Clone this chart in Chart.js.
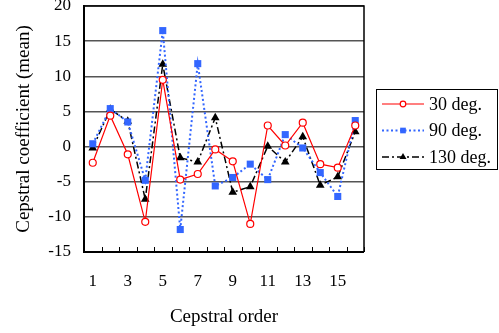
<!DOCTYPE html>
<html>
<head>
<meta charset="utf-8">
<script src="https://cdn.jsdelivr.net/npm/chart.js@4/dist/chart.umd.min.js"></script>
<style>
  html, body { margin: 0; padding: 0; background: #fff; }
  #wrap { width: 499px; height: 333px; }
</style>
</head>
<body>
<div id="wrap"><canvas id="chart" width="499" height="333"></canvas></div>
<script>
// Cepstral coefficient means per order
const orders  = ['1','2','3','4','5','6','7','8','9','10','11','12','13','14','15','16'];
const deg30   = [-2.3, 4.4, -1.1, -10.7, 9.5, -4.7, -3.9, -0.4, -2.1, -11.0, 3.0, 0.15, 3.4, -2.5, -3.0, 3.0];
const deg90   = [0.4, 5.4, 3.5, -4.8, 16.5, -11.8, 11.8, -5.6, -4.4, -2.5, -4.7, 1.7, -0.2, -3.7, -7.1, 3.7];
const deg130  = [-0.2, 5.3, 3.6, -7.5, 11.7, -1.6, -2.2, 4.1, -6.5, -5.7, 0.05, -2.2, 1.4, -5.5, -4.3, 2.1];
const seriesNames = ['30 deg.', '90 deg.', '130 deg.'];
const yTicks = { min: -15, max: 20, step: 5 };

const SERIF = "'Liberation Serif', 'DejaVu Serif', serif";
const BLUE  = '#3366FF';

// inner tick marks, frame and boxed legend
const framePlugin = {
  id: 'frame',
  afterDraw(chart) {
    const { ctx, chartArea: a } = chart;
    const xs = chart.scales.x;
    ctx.save();
    ctx.strokeStyle = '#000';
    ctx.lineWidth = 1.5;
    ctx.beginPath();
    ctx.moveTo(a.left, a.top);
    ctx.lineTo(a.right, a.top);
    ctx.lineTo(a.right, a.bottom);
    ctx.stroke();
    ctx.lineWidth = 2;
    ctx.beginPath();
    ctx.moveTo(a.left, a.top - 1);
    ctx.lineTo(a.left, a.bottom);
    ctx.lineTo(a.right, a.bottom);
    ctx.stroke();
    ctx.lineWidth = 1;
    ctx.beginPath();
    for (let i = 0; i <= orders.length; i++) {
      const x = Math.round(xs.getPixelForValue(i - 0.5)) + 0.5;
      ctx.moveTo(x, a.bottom);
      ctx.lineTo(x, a.bottom - 5);
    }
    ctx.stroke();

    // legend
    const box = { x: 376.5, y: 89.5, w: 121, h: 80 };
    ctx.lineWidth = 1;
    ctx.strokeRect(box.x, box.y, box.w, box.h);
    ctx.font = '18px ' + SERIF;
    ctx.textBaseline = 'middle';
    ctx.fillStyle = '#000';
    chart.data.datasets.forEach((ds, i) => {
      const y = 104 + i * 26.5;
      ctx.save();
      ctx.strokeStyle = ds.borderColor;
      ctx.lineWidth = ds.borderWidth;
      ctx.setLineDash(ds.borderDash || []);
      ctx.beginPath();
      ctx.moveTo(382, y);
      ctx.lineTo(424, y);
      ctx.stroke();
      ctx.setLineDash([]);
      ctx.fillStyle = ds.pointBackgroundColor;
      ctx.strokeStyle = ds.pointBorderColor;
      ctx.lineWidth = ds.pointBorderWidth;
      Chart.helpers.drawPoint(ctx, {
        pointStyle: ds.pointStyle,
        radius: ds.pointRadius * 0.8,
        borderWidth: ds.pointBorderWidth,
        rotation: 0
      }, 403, y);
      ctx.restore();
      ctx.fillText(ds.label, 429, y + 1);
    });
    ctx.restore();
  }
};

new Chart(document.getElementById('chart'), {
  type: 'line',
  data: {
    labels: orders,
    datasets: [
      {
        label: seriesNames[0],
        data: deg30,
        borderColor: '#FF0000',
        borderWidth: 1.2,
        pointStyle: 'circle',
        pointRadius: 3.5,
        pointBackgroundColor: '#FFFFFF',
        pointBorderColor: '#FF0000',
        pointBorderWidth: 1.2,
        tension: 0,
      },
      {
        label: seriesNames[1],
        data: deg90,
        borderColor: BLUE,
        borderWidth: 2,
        borderDash: [2, 2.5],
        pointStyle: 'rect',
        pointRadius: 5,
        pointBackgroundColor: BLUE,
        pointBorderColor: BLUE,
        pointBorderWidth: 0,
        tension: 0,
      },
      {
        label: seriesNames[2],
        data: deg130,
        borderColor: '#000000',
        borderWidth: 1.5,
        borderDash: [7, 3, 2, 3],
        pointStyle: 'triangle',
        pointRadius: 5,
        pointBackgroundColor: '#000000',
        pointBorderColor: '#000000',
        pointBorderWidth: 0,
        tension: 0,
      },
    ],
  },
  options: {
    responsive: false,
    animation: false,
    layout: { padding: { left: 0, right: 135, top: 6, bottom: 0 } },
    plugins: {
      legend: { display: false },
      tooltip: { enabled: false },
    },
    scales: {
      x: {
        offset: true,
        grid: { display: false, drawTicks: false },
        border: { display: false },
        ticks: {
          autoSkip: false,
          maxRotation: 0,
          padding: 19,
          color: '#000',
          font: { size: 17, family: SERIF },
          callback: (v, i) => (i % 2 === 0 ? orders[i] : ''),
        },
        title: {
          display: true,
          text: 'Cepstral order',
          color: '#000',
          font: { size: 19, family: SERIF },
          padding: { top: 0, bottom: 5 },
        },
        afterFit(scale) {
          scale.height = 81;
          scale.paddingLeft = 0;
          scale.paddingRight = 0;
        },
      },
      y: {
        min: yTicks.min,
        max: yTicks.max,
        ticks: {
          stepSize: yTicks.step,
          padding: 13,
          color: '#000',
          font: { size: 17, family: SERIF },
        },
        grid: { color: '#555', lineWidth: 1.5, drawTicks: false },
        border: { display: false },
        title: {
          display: true,
          text: 'Cepstral coefficient (mean)',
          color: '#000',
          font: { size: 19, family: SERIF },
          padding: { top: 13, bottom: 0 },
        },
        afterFit(scale) {
          scale.width = 84;
          scale.paddingTop = 0;
          scale.paddingBottom = 0;
        },
      },
    },
  },
  plugins: [framePlugin],
});
</script>
</body>
</html>
